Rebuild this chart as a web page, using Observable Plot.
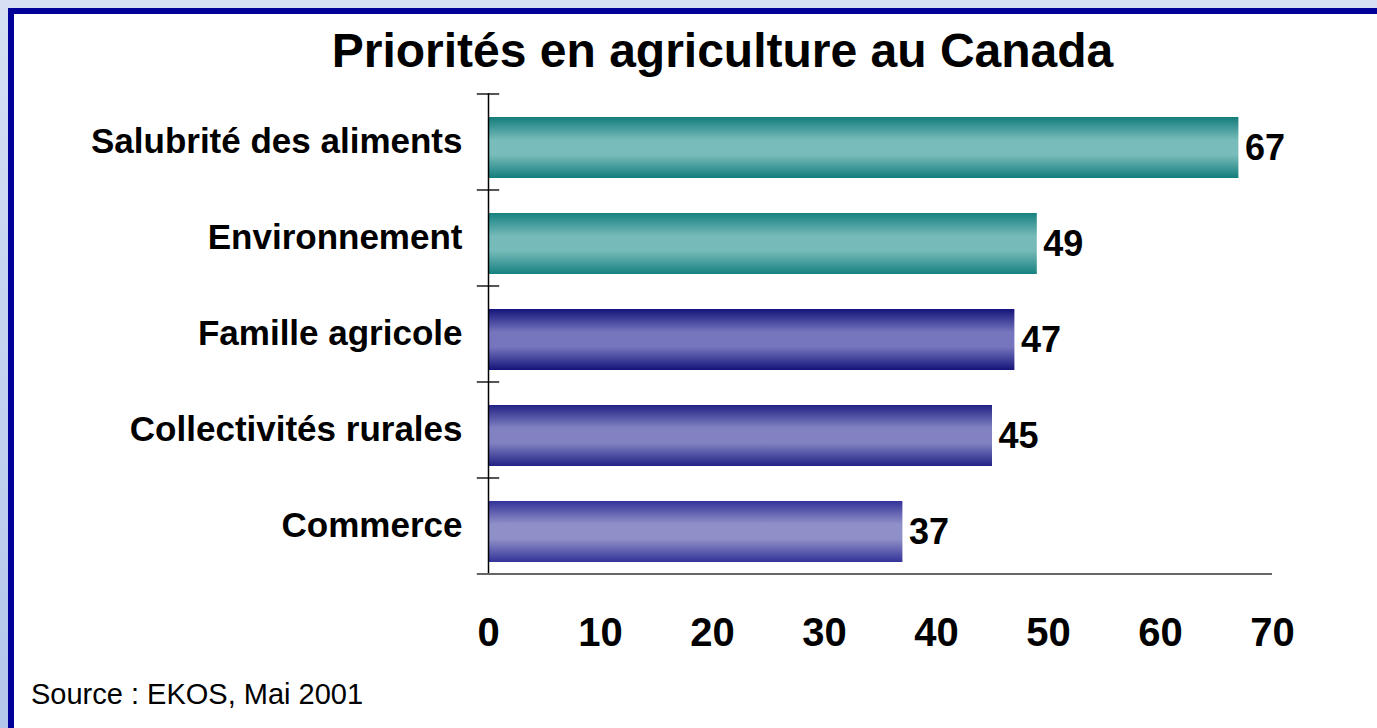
<!DOCTYPE html>
<html>
<head>
<meta charset="utf-8">
<script src="https://cdn.jsdelivr.net/npm/d3@7"></script>
<script src="https://cdn.jsdelivr.net/npm/@observablehq/plot@0.6"></script>
<style>
  html, body { margin: 0; padding: 0; width: 1377px; height: 728px; overflow: hidden; }
  body { background: linear-gradient(to bottom, #d6dff3, #b3c7ec); font-family: "Liberation Sans", Arial, sans-serif; }
  #frame { position: absolute; left: 8px; top: 8px; width: 1400px; height: 760px;
           border-left: 6px solid #000099; border-top: 6px solid #000099; background: #fff; }
  #title { position: absolute; left: 322px; width: 801px; top: 27px; text-align: center;
           font-size: 48px; line-height: 48px; font-weight: bold; color: #000; white-space: nowrap; }
  #chart { position: absolute; left: 0; top: 80px; }
  #source { position: absolute; left: 31px; top: 680px; font-size: 29px; line-height: 29px; color: #000; white-space: nowrap; }
</style>
</head>
<body>
<div id="frame"></div>
<div id="title">Priorités en agriculture au Canada</div>
<div id="chart"></div>
<div id="source">Source : EKOS, Mai 2001</div>
<script>
const categories = ["Salubrité des aliments", "Environnement", "Famille agricole", "Collectivités rurales", "Commerce"];
const values = [67, 49, 47, 45, 37];
const xTicks = [0, 10, 20, 30, 40, 50, 60, 70];
const edgeColors = ["#137d7b", "#168280", "#14147a", "#222286", "#33339a"];
const midColors  = ["#78bcbb", "#76baba", "#7676be", "#8282c2", "#9090c8"];

const W = 1377, H = 590;
const mTop = 13, mBottom = 97, mLeft = 488, mRight = 105;
const step = (H - mTop - mBottom) / categories.length;
const tickLen = 1; // half-length of category boundary ticks, in x units
const barShift = 6; // bars sit slightly below band centre in the original

const rows = categories.map((c, i) => ({cat: c, value: values[i], i}));

const bars = rows.map(r => Plot.barX([r], {x: "value", y: "cat", dy: barShift, fill: `url(#grad${r.i})`}));

const chart = Plot.plot({
  width: W,
  height: H,
  marginTop: mTop,
  marginBottom: mBottom,
  marginLeft: mLeft,
  marginRight: mRight,
  style: {fontFamily: "'Liberation Sans', Arial, sans-serif", color: "#000", background: "transparent", overflow: "visible"},
  x: {domain: [0, 70]},
  y: {domain: categories, paddingInner: 0.365, paddingOuter: 0.1825},
  marks: [
    ...bars,
    Plot.ruleY(categories, {y: d => d, x1: -tickLen, x2: tickLen, dy: -step / 2, stroke: "#555", strokeWidth: 2}),
    Plot.ruleY([categories[categories.length - 1]], {y: d => d, x1: -tickLen, x2: 70, dy: step / 2, stroke: "#666", strokeWidth: 2}),
    Plot.ruleX([0], {stroke: "#000", strokeWidth: 1.5}),
    Plot.text(rows, {x: "value", y: "cat", text: d => String(d.value), textAnchor: "start", dx: 6, dy: barShift,
                     fontSize: 36, fontWeight: "bold", fill: "#000"}),
    Plot.axisY({tickSize: 0, tickPadding: 26, fontSize: 35, fontWeight: "bold", label: null}),
    Plot.axisX({ticks: xTicks, tickFormat: d => String(d), tickSize: 0, tickPadding: 44, fontSize: 40, fontWeight: "bold", label: null})
  ]
});

const defs = d3.select(chart).insert("defs", ":first-child");
rows.forEach(r => {
  const g = defs.append("linearGradient").attr("id", `grad${r.i}`)
    .attr("x1", 0).attr("y1", 0).attr("x2", 0).attr("y2", 1);
  [[0, edgeColors[r.i]], [0.38, midColors[r.i]], [0.62, midColors[r.i]], [1, edgeColors[r.i]]]
    .forEach(([o, c]) => g.append("stop").attr("offset", o).attr("stop-color", c));
});

document.getElementById("chart").appendChild(chart);
</script>
</body>
</html>
